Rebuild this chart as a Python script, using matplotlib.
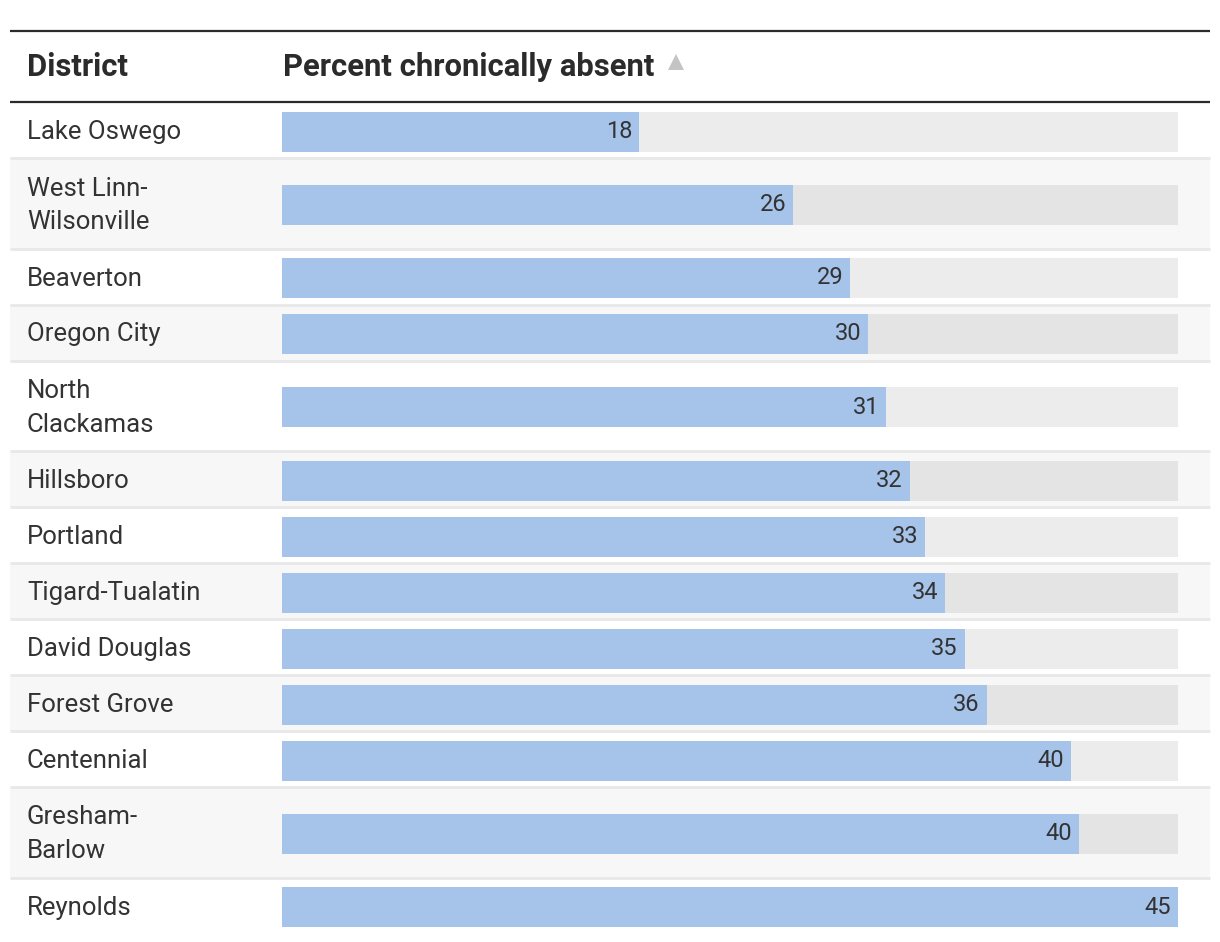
import matplotlib
matplotlib.use("Agg")
import matplotlib.pyplot as plt

# ----------------------------------------------------------------------------------------------------------------------
# dati

districts = ["Lake Oswego", "West Linn-\nWilsonville", "Beaverton", "Oregon City", "North\nClackamas",
             "Hillsboro", "Portland", "Tigard-Tualatin", "David Douglas", "Forest Grove", "Centennial",
             "Gresham-\nBarlow", "Reynolds"]
pct_absent = [18.1, 25.9, 28.8, 29.7, 30.6, 31.8, 32.6, 33.6, 34.6, 35.7, 40.0, 40.4, 45.4]
header_left = "District"
header_right = "Percent chronically absent"

# ----------------------------------------------------------------------------------------------------------------------
# stile

plt.rcParams['font.family'] = ['Roboto', 'DejaVu Sans']
W, H = 1220, 942
bar_color = "#a6c3ea"
track_color = (0, 0, 0, 0.075)
stripe_color = "#f7f7f7"
sep_color = "#e8e8e8"
text_color = "#333333"

fig = plt.figure(figsize=(W / 100, H / 100), dpi=100)

# asse di sfondo in pixel (righe, linee, testo a sinistra)
bg = fig.add_axes([0, 0, 1, 1])
bg.set_xlim(0, W)
bg.set_ylim(H, 0)
bg.axis("off")

# asse delle barre
bar_left, bar_right = 282, 1178
ax = fig.add_axes([bar_left / W, 0, (bar_right - bar_left) / W, 1])
ax.set_xlim(0, max(pct_absent))
ax.set_ylim(H, 0)
ax.axis("off")
ax.patch.set_alpha(0)

# ----------------------------------------------------------------------------------------------------------------------
# intestazione

top_line, head_line = 31, 102
bg.plot([10, 1210], [top_line, top_line], color="#2b2b2b", lw=1.6, solid_capstyle="butt")
bg.plot([10, 1210], [head_line, head_line], color="#2b2b2b", lw=1.6, solid_capstyle="butt")
head_y = (top_line + head_line) / 2 + 1
bg.text(27, head_y, header_left, fontsize=22.3, fontweight="bold", color="#2b2b2b", va="center", ha="left")
bg.text(283, head_y, header_right, fontsize=22.3, fontweight="bold", color="#2b2b2b", va="center", ha="left")
bg.plot([676], [62], marker="^", markersize=12, color="#c4c4c4", markeredgewidth=0)

# ----------------------------------------------------------------------------------------------------------------------
# righe

single_h, double_h, bar_h = 56, 90.5, 40
y = head_line
for i, (name, val) in enumerate(zip(districts, pct_absent)):
    h = double_h if "\n" in name else single_h
    yc = y + h / 2
    if i % 2 == 1:
        bg.axhspan(y, y + h, xmin=10 / W, xmax=1210 / W, color=stripe_color, lw=0, zorder=0)
    if i > 0:
        bg.plot([10, 1210], [y, y], color=sep_color, lw=2, zorder=1, solid_capstyle="butt")
    bg.text(27, yc + 2, name, fontsize=18.5, color=text_color, va="center", ha="left", linespacing=1.5)
    ax.barh(yc + 1.5, max(pct_absent), height=bar_h, color=track_color, lw=0)
    ax.barh(yc + 1.5, val, height=bar_h, color=bar_color, lw=0)
    ax.annotate("{:.0f}".format(val), xy=(val, yc + 1.5), xytext=(-7, 0), textcoords="offset pixels",
                ha="right", va="center", fontsize=17, color=text_color)
    y += h

fig.savefig("out.png", dpi=100)
